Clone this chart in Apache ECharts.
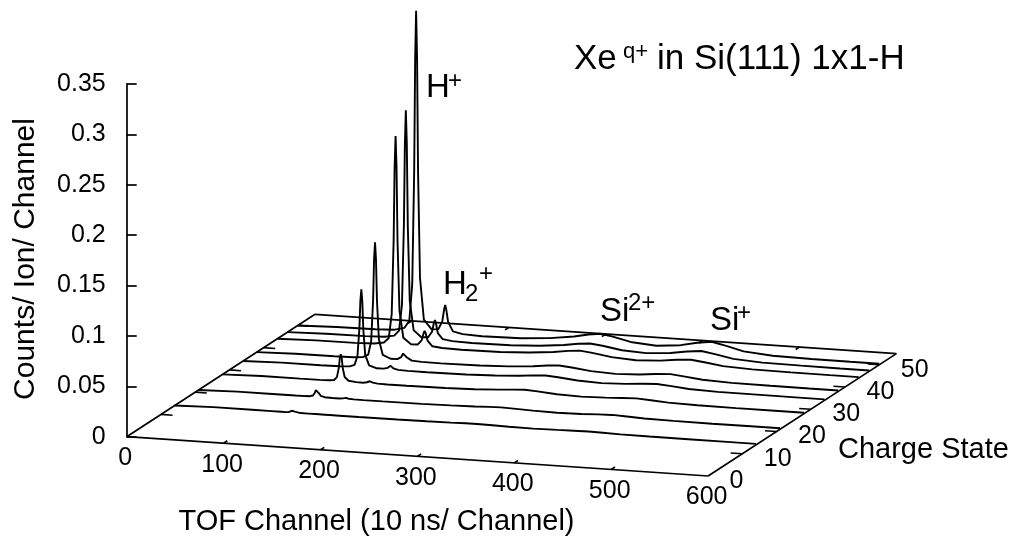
<!DOCTYPE html>
<html><head><meta charset="utf-8">
<script src="https://cdn.jsdelivr.net/npm/echarts@6.0.0/dist/echarts.min.js"></script>
<style>html,body{margin:0;padding:0;background:#fff}#c{width:1022px;height:544px}</style>
</head><body><div id="c"></div>
<script>
// ---------------- data ----------------
const channels = [0, 40, 80, 100, 110, 115, 118, 120, 121, 122, 123, 124, 126, 130, 138, 145, 149, 151, 152, 153, 155, 160, 170, 190, 230, 260, 285, 300, 312, 325, 345, 370, 395, 412, 427, 442, 460, 490, 530, 570, 600];
const chargeStates = [14, 21, 28, 34, 38, 44, 47, 50];
const trace14 = [0, 0.001, 0.001, 0.001, 0.001, 0.001, 0.0013, 0.002, 0.0027, 0.003, 0.0027, 0.002, 0.0013, 0.001, 0.001, 0.001, 0.001, 0.001, 0.001, 0.001, 0.001, 0.001, 0.001, 0.001, 0.0011, 0.0013, 0.0016, 0.0019, 0.002, 0.0018, 0.0014, 0.0012, 0.0015, 0.0018, 0.002, 0.0017, 0.0013, 0.0011, 0.001, 0.001, 0.001];
const trace21 = [0, 0.001, 0.001, 0.001, 0.0011, 0.0013, 0.0022, 0.005, 0.0078, 0.009, 0.0078, 0.005, 0.0024, 0.0013, 0.001, 0.001, 0.0014, 0.0019, 0.002, 0.0019, 0.0014, 0.0011, 0.001, 0.001, 0.0012, 0.0016, 0.0022, 0.0027, 0.003, 0.0026, 0.0019, 0.0015, 0.0018, 0.0026, 0.003, 0.0024, 0.0016, 0.0012, 0.001, 0.001, 0.001];
const trace28 = [0, 0.001, 0.001, 0.0011, 0.0013, 0.0019, 0.005, 0.0145, 0.024, 0.028, 0.024, 0.0145, 0.0056, 0.0021, 0.0013, 0.0012, 0.0019, 0.0028, 0.0031, 0.0028, 0.0019, 0.0013, 0.0011, 0.0011, 0.0015, 0.0022, 0.0034, 0.0044, 0.005, 0.0043, 0.0027, 0.002, 0.0026, 0.0034, 0.004, 0.0031, 0.0019, 0.0012, 0.001, 0.001, 0.001];
const trace34 = [0, 0.001, 0.0011, 0.0013, 0.0019, 0.0037, 0.0127, 0.040, 0.0673, 0.079, 0.0673, 0.040, 0.0143, 0.0041, 0.0018, 0.0019, 0.0029, 0.0047, 0.0053, 0.0047, 0.0029, 0.0016, 0.0013, 0.0012, 0.0016, 0.0025, 0.004, 0.0053, 0.006, 0.0051, 0.0031, 0.0022, 0.003, 0.0043, 0.005, 0.0038, 0.0022, 0.0013, 0.0011, 0.001, 0.001];
const trace38 = [0, 0.001, 0.0011, 0.0015, 0.0024, 0.0051, 0.0184, 0.059, 0.0996, 0.117, 0.0996, 0.059, 0.0208, 0.0057, 0.0024, 0.0025, 0.0048, 0.0084, 0.0095, 0.0084, 0.0047, 0.002, 0.0014, 0.0012, 0.0017, 0.0028, 0.0046, 0.0062, 0.007, 0.0059, 0.0036, 0.0025, 0.0035, 0.0051, 0.006, 0.0045, 0.0025, 0.0014, 0.0011, 0.001, 0.001];
const trace44 = [0, 0.001, 0.0012, 0.0018, 0.0035, 0.0083, 0.0322, 0.105, 0.1778, 0.209, 0.1778, 0.105, 0.0365, 0.0095, 0.0036, 0.0038, 0.0084, 0.0156, 0.0178, 0.0156, 0.0083, 0.003, 0.0019, 0.0015, 0.0019, 0.0033, 0.0055, 0.0075, 0.0085, 0.0072, 0.0042, 0.0028, 0.004, 0.006, 0.007, 0.0052, 0.0028, 0.0015, 0.0011, 0.001, 0.001];
const trace47 = [0, 0.001, 0.0012, 0.0019, 0.0037, 0.0089, 0.035, 0.1145, 0.194, 0.228, 0.194, 0.1145, 0.0398, 0.0104, 0.0039, 0.0044, 0.0101, 0.0191, 0.0219, 0.0191, 0.009, 0.0035, 0.0021, 0.0015, 0.002, 0.0034, 0.0058, 0.0079, 0.009, 0.0076, 0.0044, 0.0032, 0.0049, 0.0076, 0.009, 0.0066, 0.0034, 0.0016, 0.0012, 0.001, 0.001];
const trace50 = [0, 0.001, 0.0014, 0.0023, 0.0048, 0.0122, 0.0489, 0.1605, 0.2722, 0.320, 0.2722, 0.1605, 0.0555, 0.0142, 0.0051, 0.0058, 0.0138, 0.0263, 0.0303, 0.0263, 0.0136, 0.0045, 0.0024, 0.0017, 0.0023, 0.0043, 0.0076, 0.0105, 0.012, 0.010, 0.0057, 0.0039, 0.0061, 0.0096, 0.0116, 0.0084, 0.0042, 0.0018, 0.0012, 0.001, 0.001];
const tofTicks = [0, 100, 200, 300, 400, 500, 600];
const chargeTicks = [0, 10, 20, 30, 40, 50];
const countMin = 0, countMax = 0.35, countStep = 0.05;
const tofRange = [0, 600];
const chargeRange = [0, 55];

// ---------------- projection (pseudo-3D waterfall) ----------------
const KQ = 3.5335;     // horizontal shift (channel units) per charge step
const KC = 6.5e-5;     // vertical drop (count units) per channel
const KV = 0.0022073;  // vertical rise (count units) per charge step
function P(c, q, v) { return [c + q * KQ, v - c * KC + q * KV]; }

const FONT = "'Liberation Sans', Arial, Helvetica, sans-serif";
const traceValues = [trace14, trace21, trace28, trace34, trace38, trace44, trace47, trace50];

const series = [];
chargeStates.forEach((q, k) => {
  const vals = traceValues[k];
  series.push({
    type: 'line', xAxisIndex: 0, yAxisIndex: 0,
    data: channels.map((c, i) => P(c, q, vals[i])),
    symbol: 'none', clip: false, silent: true, z: 3,
    lineStyle: { color: '#000', width: 1.9 }
  });
});

// base frame and ticks
const T0 = tofRange[0], T1 = tofRange[1], Q0 = chargeRange[0], Q1 = chargeRange[1];
const segs = [
  [P(T0, Q0, 0), P(T1, Q0, 0)], [P(T1, Q0, 0), P(T1, Q1, 0)],
  [P(T1, Q1, 0), P(T0, Q1, 0)], [P(T0, Q1, 0), P(T0, Q0, 0)]
];
const TICK_Q = 1.1, TICK_C = 12;
tofTicks.filter(t => t > T0 && t < T1).forEach(t => {
  segs.push([P(t, Q0, 0), P(t, Q0 + TICK_Q, 0)]);
  segs.push([P(t, Q1, 0), P(t, Q1 - TICK_Q, 0)]);
});
chargeTicks.filter(t => t > Q0).forEach(t => {
  segs.push([P(T0, t, 0), P(T0 + TICK_C, t, 0)]);
  segs.push([P(T1, t, 0), P(T1 - TICK_C, t, 0)]);
});
series.push({
  type: 'custom', xAxisIndex: 0, yAxisIndex: 0, silent: true, z: 2,
  data: segs.map(s => [s[0][0], s[0][1], s[1][0], s[1][1]]),
  encode: { x: [0, 2], y: [1, 3] },
  renderItem: function (params, api) {
    const a = api.coord([api.value(0), api.value(1)]);
    const b = api.coord([api.value(2), api.value(3)]);
    return { type: 'line', shape: { x1: a[0], y1: a[1], x2: b[0], y2: b[1] },
      style: { stroke: '#000', lineWidth: 1.7 } };
  }
});

// tick labels
function textItem(x, y, txt, align) {
  return { type: 'text', x: x, y: y,
    style: { text: txt, font: '25px ' + FONT, fill: '#000',
      align: align, textAlign: align, verticalAlign: 'middle', textVerticalAlign: 'middle' } };
}
series.push({
  type: 'custom', xAxisIndex: 0, yAxisIndex: 0, silent: true, z: 4,
  data: tofTicks.map(t => { const p = P(t, Q0, 0); return [p[0], p[1], t]; }),
  renderItem: function (params, api) {
    const p = api.coord([api.value(0), api.value(1)]);
    return textItem(p[0] - 1.5, p[1] + 21.5, String(api.value(2)), 'center');
  }
});
series.push({
  type: 'custom', xAxisIndex: 0, yAxisIndex: 0, silent: true, z: 4,
  data: chargeTicks.map(t => { const p = P(T1, t, 0); return [p[0], p[1], t]; }),
  renderItem: function (params, api) {
    const p = api.coord([api.value(0), api.value(1)]);
    return textItem(p[0] + 21.5, p[1] + 5, String(api.value(2)), 'left');
  }
});

// ---------------- layout ----------------
const PX_C = 0.969, PX_V = 1008;
const ORIGIN = [126.7, 436.7];
const X_MAX = 800, Y_MIN = -0.06, Y_MAX = 0.43;

function txt(x, y, text, size, align, rot) {
  const el = { type: 'text', x: x, y: y, silent: true,
    style: { text: text, font: size + 'px ' + FONT, fill: '#000',
      align: align || 'left', textAlign: align || 'left', verticalAlign: 'middle', textVerticalAlign: 'middle' } };
  if (rot) el.rotation = rot;
  return el;
}

const option = {
  animation: false,
  backgroundColor: '#fff',
  grid: [
    { left: ORIGIN[0], top: ORIGIN[1] - Y_MAX * PX_V, width: X_MAX * PX_C, height: (Y_MAX - Y_MIN) * PX_V },
    { left: ORIGIN[0], top: ORIGIN[1] - countMax * PX_V, width: 10, height: (countMax - countMin) * PX_V }
  ],
  xAxis: [
    { gridIndex: 0, type: 'value', min: 0, max: X_MAX, show: false },
    { gridIndex: 1, type: 'value', min: 0, max: 1, show: false }
  ],
  yAxis: [
    { gridIndex: 0, type: 'value', min: Y_MIN, max: Y_MAX, show: false },
    { gridIndex: 1, type: 'value', min: countMin, max: countMax, interval: countStep, position: 'left',
      axisLine: { show: true, lineStyle: { color: '#000', width: 1.7 } },
      axisTick: { show: true, inside: true, length: 10, lineStyle: { color: '#000', width: 1.7 } },
      axisLabel: { color: '#000', fontSize: 25, fontFamily: FONT, margin: 21 },
      splitLine: { show: false } }
  ],
  graphic: [
    txt(26, 259, 'Counts/ Ion/ Channel', 30, 'center', Math.PI / 2),
    txt(376.5, 522, 'TOF Channel (10 ns/ Channel)', 29, 'center'),
    txt(838, 450, 'Charge State', 29, 'left'),
    // title  Xe^{q+} in Si(111) 1x1-H
    txt(574, 59, 'Xe', 35), txt(623, 52, 'q+', 22), txt(657, 59, 'in Si(111) 1x1-H', 35),
    // peak labels
    txt(426, 88, 'H', 33), txt(448, 81, '+', 24),
    txt(443, 285, 'H', 33), txt(465, 294, '2', 24), txt(479, 274, '+', 24),
    txt(600, 312, 'Si', 33), txt(628, 303, '2+', 24),
    txt(710, 321, 'Si', 33), txt(737, 313, '+', 24)
  ],
  series: series
};
const chart = echarts.init(document.getElementById('c'), null, { renderer: 'canvas' });
chart.setOption(option);
</script>
</body></html>
